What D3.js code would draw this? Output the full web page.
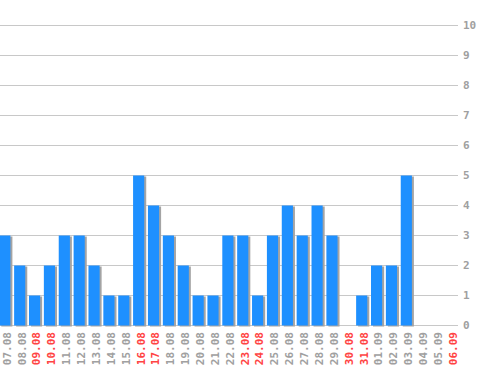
<!DOCTYPE html>
<html><head><meta charset="utf-8">
<script src="https://cdn.jsdelivr.net/npm/d3@7"></script>
<style>body{margin:0;background:#fff}svg{display:block}</style>
</head><body>
<script>
const labels = ["07.08","08.08","09.08","10.08","11.08","12.08","13.08","14.08","15.08","16.08","17.08","18.08","19.08","20.08","21.08","22.08","23.08","24.08","25.08","26.08","27.08","28.08","29.08","30.08","31.08","01.09","02.09","03.09","04.09","05.09","06.09"];
const values = [3,2,1,2,3,3,2,1,1,5,4,3,2,1,1,3,3,1,3,4,3,4,3,0,1,2,2,5,0,0,0];
const weekend = [false,false,true,true,false,false,false,false,false,true,true,false,false,false,false,false,true,true,false,false,false,false,false,true,true,false,false,false,false,false,true];
const yTicks = [0,1,2,3,4,5,6,7,8,9,10];

const W = 498, H = 370;
const svg = d3.select("body").append("svg").attr("width", W).attr("height", H);
const x = d3.scaleBand().domain(labels).range([-0.75, 456.5]).paddingInner(0.25).paddingOuter(0).align(0);
const y = d3.scaleLinear().domain([0, 10]).range([325, 25]);

const font = "'DejaVu Sans Mono', monospace";

// grid
svg.append("g").selectAll("line").data(yTicks).join("line")
  .attr("x1", 0).attr("x2", 458)
  .attr("y1", d => y(d) + 0.5).attr("y2", d => y(d) + 0.5)
  .attr("stroke", "#c8c8c8").attr("stroke-width", 1);

// y labels
svg.append("g").selectAll("text").data(yTicks).join("text")
  .attr("x", 463).attr("y", d => y(d) + 4)
  .attr("font-family", font).attr("font-size", 11).attr("font-weight", "bold")
  .attr("fill", "#a0a0a0").text(d => d);

// shadows
svg.append("g").selectAll("rect").data(values).join("rect")
  .attr("x", (d, i) => x(labels[i]) + 2)
  .attr("y", d => y(d) + 1.5)
  .attr("width", x.bandwidth())
  .attr("height", d => Math.max(0, y(0) - y(d)))
  .attr("fill", "#a4a4a4");

// bars
svg.append("g").selectAll("rect").data(values).join("rect")
  .attr("x", (d, i) => x(labels[i]))
  .attr("y", d => y(d) + 0.5)
  .attr("width", x.bandwidth())
  .attr("height", d => Math.max(0, y(0) - y(d)))
  .attr("fill", "#1e90ff");

// x labels
svg.append("g").selectAll("text").data(labels).join("text")
  .attr("transform", (d) => `translate(${x(d) + x.step() / 2 + 4},332) rotate(-90)`)
  .attr("text-anchor", "end")
  .attr("font-family", font).attr("font-size", 11).attr("font-weight", "bold")
  .attr("fill", (d, i) => weekend[i] ? "#ff4444" : "#a0a0a0")
  .text(d => d);
</script>
</body></html>
